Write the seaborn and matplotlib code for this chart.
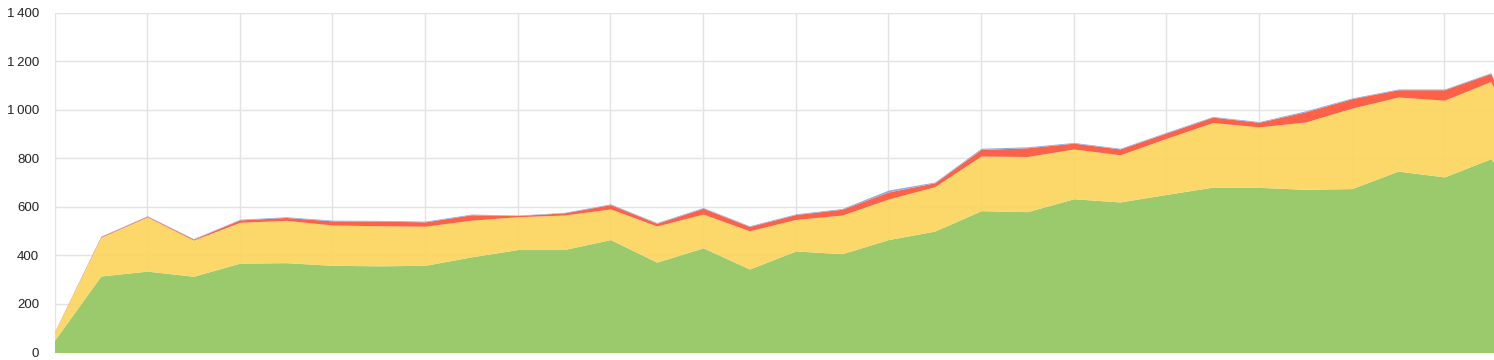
import numpy as np
import matplotlib
matplotlib.use("Agg")
import matplotlib.pyplot as plt
import seaborn as sns

# monthly values (33rd point is clipped at the right edge)
green = [50, 315, 335, 314, 368, 370, 359, 357, 359, 394, 424, 424, 465, 372, 431, 344,
         418, 407, 465, 500, 584, 580, 633, 620, 651, 681, 680, 672, 675, 747, 723, 798, 560]
yellow = [34, 159, 223, 149, 168, 174, 166, 165, 161, 151, 135, 142, 126, 149, 139, 157,
          130, 159, 167, 183, 225, 227, 205, 194, 231, 266, 249, 277, 331, 305, 316, 318, 150]
red = [1, 3, 3, 4, 10, 12, 17, 19, 18, 22, 5, 9, 18, 11, 24, 18,
       20, 24, 29, 16, 27, 36, 24, 24, 22, 22, 19, 42, 39, 30, 43, 33, 20]
blue = [1, 2, 2, 2, 3, 3, 3, 3, 3, 3, 2, 2, 3, 3, 3, 3,
        3, 3, 8, 3, 5, 4, 3, 3, 3, 3, 3, 4, 3, 3, 3, 3, 3]
yticks = [0, 200, 400, 600, 800, 1000, 1200, 1400]
ytick_labels = ["0", "200", "400", "600", "800", "1\u2009000", "1\u2009200", "1\u2009400"]

colors = ["#96c865", "#fcd663", "#fd5a3e", "#8ea6dc"]

sns.set_style("white")
plt.rcParams["font.family"] = ["Liberation Sans", "DejaVu Sans"]

fig = plt.figure(figsize=(14.94, 3.6), dpi=100)
ax = fig.add_axes([54.5 / 1494, 1 - 352.5 / 360, 1 - 54.5 / 1494, 340 / 360])

x = np.arange(len(green))
ax.stackplot(x, green, yellow, red, blue, colors=colors, alpha=0.95, linewidth=0, zorder=2)

ax.set_yticks(yticks)
ax.set_yticklabels(ytick_labels, fontsize=9.5, color="#222222")
ax.set_xticks(x[::2])
ax.set_xticklabels([])
ax.set_ylim(0, 1400)
ax.set_xlim(0, (1494 - 54.5) / 46.33)
ax.tick_params(axis="both", length=0, pad=11)
ax.grid(True, color="#e3e3e3", linewidth=1, zorder=0)
ax.set_axisbelow(True)
for s in ax.spines.values():
    s.set_visible(False)

fig.savefig("out.png", dpi=100)
